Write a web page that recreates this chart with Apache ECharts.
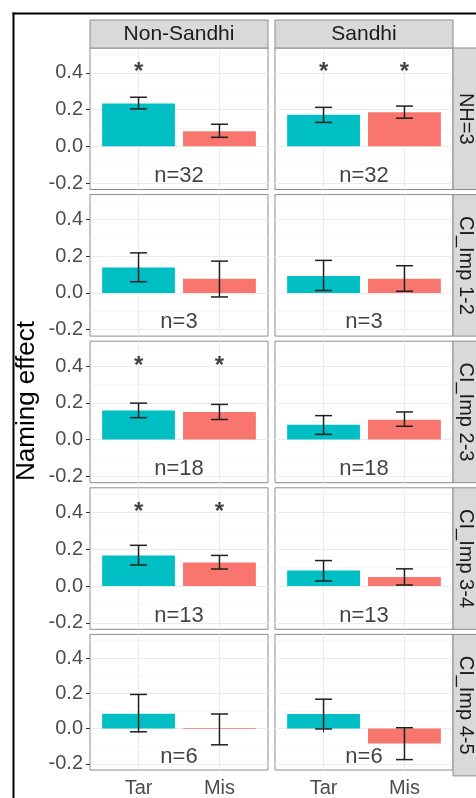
<!DOCTYPE html>
<html><head><meta charset="utf-8">
<script src="https://cdn.jsdelivr.net/npm/echarts@6/dist/echarts.min.js"></script>
<style>html,body{margin:0;padding:0;background:#fff}#c{width:476px;height:798px}</style>
</head><body><div id="c"></div>
<script>
// ---- data ----
const categories = ['Tar', 'Mis'];
const columns = ['Non-Sandhi', 'Sandhi'];
const rows = ['NH=3', 'CI_Imp 1-2', 'CI_Imp 2-3', 'CI_Imp 3-4', 'CI_Imp 4-5'];
const nLabels = ['n=32', 'n=3', 'n=18', 'n=13', 'n=6'];
const yTicks = [-0.2, 0, 0.2, 0.4];
const yMinorTicks = [-0.1, 0.1, 0.3, 0.5];

const tarNS = [0.233, 0.138, 0.158, 0.167, 0.084];
const misNS = [0.082, 0.077, 0.150, 0.128, 0.002];
const tarS  = [0.172, 0.092, 0.080, 0.085, 0.083];
const misS  = [0.185, 0.077, 0.108, 0.050, -0.085];

const tarNSLow  = [0.204, 0.061, 0.119, 0.115, -0.018];
const tarNSHigh = [0.267, 0.218, 0.198, 0.222, 0.194];
const misNSLow  = [0.049, -0.022, 0.109, 0.093, -0.092];
const misNSHigh = [0.120, 0.173, 0.191, 0.167, 0.083];
const tarSLow   = [0.130, 0.013, 0.028, 0.028, -0.002];
const tarSHigh  = [0.212, 0.177, 0.130, 0.139, 0.167];
const misSLow   = [0.153, 0.009, 0.072, 0.006, -0.176];
const misSHigh  = [0.219, 0.148, 0.150, 0.094, 0.005];

const starTarNS = [1, 0, 1, 1, 0];
const starMisNS = [0, 0, 1, 1, 0];
const starTarS  = [1, 0, 0, 0, 0];
const starMisS  = [1, 0, 0, 0, 0];

const starY = 0.4;
const nY = -0.16;

// ---- layout ----
const FONT = '"Liberation Sans", Arial, sans-serif';
const colLeft = [90, 275];
const panelW = 178;
const panelTop0 = 48, panelH = 141.5, rowStep = 146.6;
const barColors = ['#00BFC4', '#F8766D'];
const yMin = -0.235, yMax = 0.535;

const grids = [], xAxes = [], yAxes = [], series = [], graphics = [];

const vals = [[tarNS, misNS], [tarS, misS]];
const lows = [[tarNSLow, misNSLow], [tarSLow, misSLow]];
const highs = [[tarNSHigh, misNSHigh], [tarSHigh, misSHigh]];
const stars = [[starTarNS, starMisNS], [starTarS, starMisS]];

for (let r = 0; r < rows.length; r++) {
  for (let c = 0; c < 2; c++) {
    const g = r * 2 + c;
    const top = panelTop0 + r * rowStep;
    grids.push({left: colLeft[c], top: top, width: panelW, height: panelH,
      show: true, borderColor: '#8c8c8c', borderWidth: 1, backgroundColor: '#fff'});
    xAxes.push({gridIndex: g, type: 'value', min: 0.4, max: 2.6,
      axisLine: {show: false},
      axisTick: {show: r === rows.length - 1, customValues: [1, 2], length: 4, lineStyle: {color: '#333'}},
      axisLabel: {show: r === rows.length - 1, customValues: [1, 2],
        formatter: v => categories[Math.round(v) - 1], color: '#4d4d4d', fontSize: 20, fontFamily: FONT, margin: 8},
      splitLine: {show: true, lineStyle: {color: '#ebebeb', width: 1}}
    });
    yAxes.push({gridIndex: g, type: 'value', min: yMin, max: yMax, position: 'left',
      axisLine: {show: false},
      axisTick: {show: c === 0, customValues: yTicks, length: 4, lineStyle: {color: '#333'}},
      axisLabel: {show: c === 0, customValues: yTicks, formatter: v => v.toFixed(1),
        color: '#4d4d4d', fontSize: 20, fontFamily: FONT, margin: 7},
      splitLine: {show: true, lineStyle: {color: '#ebebeb', width: 1.1}}
    });
    yAxes.push({gridIndex: g, type: 'value', min: yMin, max: yMax, position: 'right',
      axisLine: {show: false},
      axisTick: {show: false, customValues: yMinorTicks},
      axisLabel: {show: false, customValues: yMinorTicks},
      splitLine: {show: true, lineStyle: {color: '#f4f4f4', width: 0.7}}
    });
    const barData = [], errData = [], starData = [];
    for (let k = 0; k < 2; k++) {
      barData.push([k + 1, vals[c][k][r], k]);
      errData.push([k + 1, lows[c][k][r], highs[c][k][r]]);
      if (stars[c][k][r]) starData.push([k + 1, starY]);
    }
    series.push({type: 'custom', xAxisIndex: g, yAxisIndex: 2 * g, z: 2,
      data: barData,
      renderItem: (params, api) => {
        const x = api.value(0), v = api.value(1), ci = api.value(2);
        const p0 = api.coord([x - 0.45, 0]);
        const p1 = api.coord([x + 0.45, v]);
        return {type: 'rect', shape: {x: p0[0], y: Math.min(p0[1], p1[1]), width: p1[0] - p0[0],
          height: Math.max(Math.abs(p1[1] - p0[1]), 0.8)},
          style: {fill: barColors[ci]}};
      }
    });
    series.push({type: 'custom', xAxisIndex: g, yAxisIndex: 2 * g, z: 3,
      data: errData,
      renderItem: (params, api) => {
        const x = api.value(0), lo = api.value(1), hi = api.value(2);
        const a = api.coord([x, hi]), b = api.coord([x, lo]);
        const l = api.coord([x - 0.105, hi]), rr = api.coord([x + 0.105, hi]);
        const bl = api.coord([x - 0.105, lo]), br = api.coord([x + 0.105, lo]);
        const st = {stroke: '#1f1f1f', lineWidth: 1.5};
        return {type: 'group', children: [
          {type: 'line', shape: {x1: a[0], y1: a[1], x2: b[0], y2: b[1]}, style: st},
          {type: 'line', shape: {x1: l[0], y1: l[1], x2: rr[0], y2: rr[1]}, style: st},
          {type: 'line', shape: {x1: bl[0], y1: bl[1], x2: br[0], y2: br[1]}, style: st}
        ]};
      }
    });
    series.push({type: 'scatter', xAxisIndex: g, yAxisIndex: 2 * g, z: 4,
      symbolSize: 0, data: starData, silent: true,
      label: {show: true, position: 'inside', formatter: '*', color: '#111', fontSize: 24,
        fontWeight: 'bold', fontFamily: FONT}
    });
    series.push({type: 'scatter', xAxisIndex: g, yAxisIndex: 2 * g, z: 4,
      symbolSize: 0, data: [[1.5, nY]], silent: true,
      label: {show: true, position: 'inside', formatter: nLabels[r], color: '#111', fontSize: 22,
        fontFamily: FONT}
    });
  }
  // right strip
  const top = panelTop0 + r * rowStep;
  graphics.push({type: 'rect', shape: {x: 453, y: top, width: 30, height: panelH},
    style: {fill: '#d9d9d9', stroke: '#8c8c8c', lineWidth: 1}, z: 10});
  graphics.push({type: 'text', x: 466, y: top + panelH / 2, rotation: -Math.PI / 2,
    style: {text: rows[r], fill: '#1a1a1a', fontSize: 20, fontFamily: FONT, align: 'center', verticalAlign: 'middle'}, z: 11});
}
for (let c = 0; c < 2; c++) {
  graphics.push({type: 'rect', shape: {x: colLeft[c], y: 20, width: panelW, height: 28},
    style: {fill: '#d9d9d9', stroke: '#8c8c8c', lineWidth: 1}, z: 10});
  graphics.push({type: 'text', x: colLeft[c] + panelW / 2, y: 34,
    style: {text: columns[c], fill: '#1a1a1a', fontSize: 21, fontFamily: FONT, align: 'center', verticalAlign: 'middle'}, z: 11});
}
graphics.push({type: 'text', x: 27, y: 401, rotation: Math.PI / 2,
  style: {text: 'Naming effect', fill: '#000', fontSize: 26, fontFamily: FONT, align: 'center', verticalAlign: 'middle'}, z: 11});
graphics.push({type: 'line', shape: {x1: 13.5, y1: 12.5, x2: 13.5, y2: 798}, style: {stroke: '#000', lineWidth: 2}, z: 12});
graphics.push({type: 'line', shape: {x1: 12.5, y1: 13.5, x2: 476, y2: 13.5}, style: {stroke: '#000', lineWidth: 2}, z: 12});

const chart = echarts.init(document.getElementById('c'), null, {renderer: 'canvas'});
chart.setOption({
  animation: false,
  backgroundColor: '#fff',
  grid: grids, xAxis: xAxes, yAxis: yAxes, series: series, graphic: graphics
});
</script></body></html>
